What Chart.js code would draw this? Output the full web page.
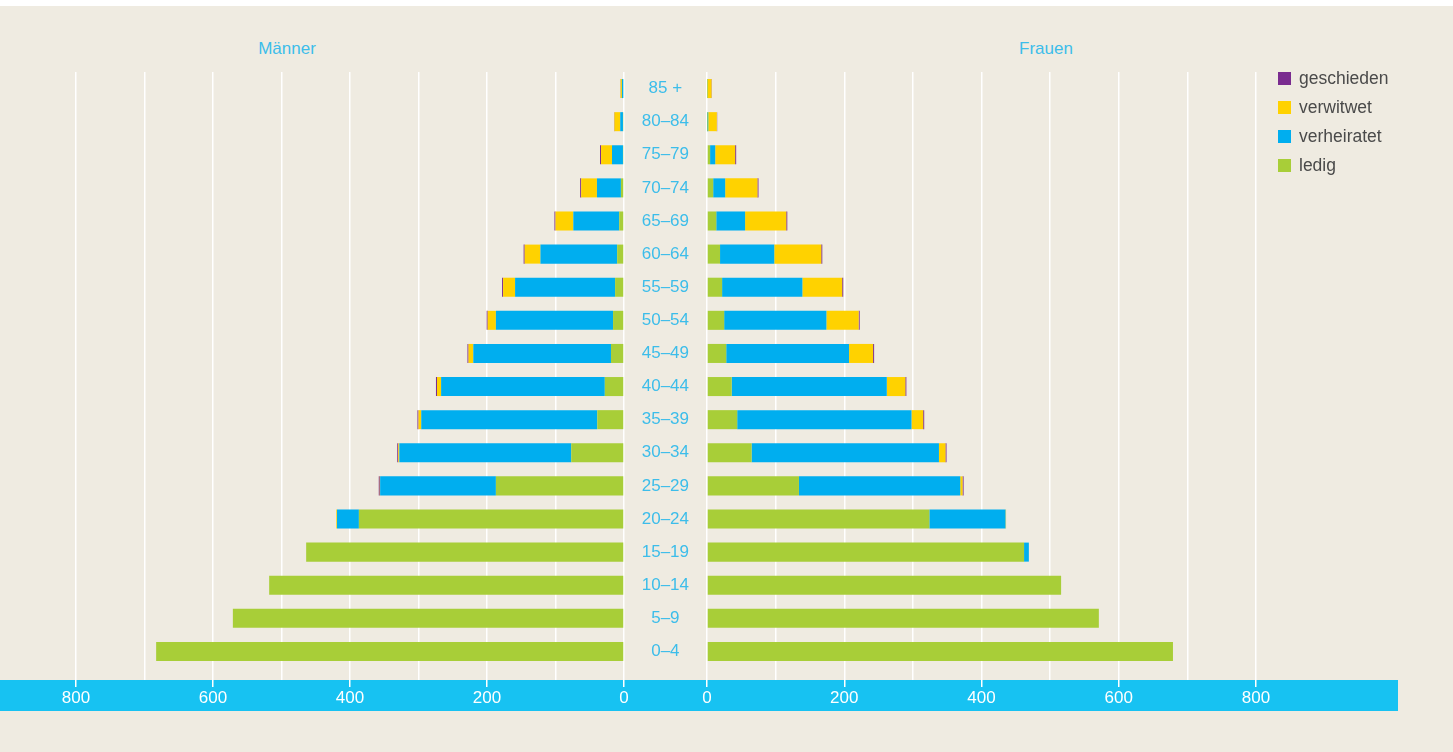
<!DOCTYPE html>
<html>
<head>
<meta charset="utf-8">
<script src="https://cdn.jsdelivr.net/npm/chart.js@4/dist/chart.umd.min.js"></script>
<style>
html,body{margin:0;padding:0;}
body{width:1453px;height:752px;background:#EFEBE1;position:relative;overflow:hidden;font-family:"Liberation Sans",Arial,sans-serif;}
#topstrip{position:absolute;left:0;top:0;width:1453px;height:6px;background:#ffffff;}
#band{position:absolute;left:0;top:680px;width:1398px;height:31px;background:#17C2F2;}
.cw{position:absolute;top:0;height:752px;}
#leftWrap{left:0;width:650px;}
#rightWrap{left:624px;width:829px;}
.title{position:absolute;top:39px;color:#3CBDEA;font-size:17px;line-height:19px;transform:translateX(-50%);white-space:nowrap;}
#legend{position:absolute;left:1278px;top:64px;}
.li{display:flex;align-items:center;height:29px;}
.lb{width:13px;height:13px;margin-right:8px;}
.lt{font-size:17.5px;color:#4A4A4A;}
</style>
</head>
<body>
<div id="topstrip"></div>
<div id="band"></div>
<div class="title" style="left:287px">Männer</div>
<div class="title" style="left:1046px">Frauen</div>
<div class="cw" id="leftWrap"><canvas id="cLeft" width="650" height="752"></canvas></div>
<div class="cw" id="rightWrap"><canvas id="cRight" width="829" height="752"></canvas></div>
<div id="legend"></div>
<script>
// Age groups, top to bottom
const categories = ["85 +","80–84","75–79","70–74","65–69","60–64","55–59","50–54","45–49","40–44","35–39","30–34","25–29","20–24","15–19","10–14","5–9","0–4"];
const seriesNames = ["ledig","verheiratet","verwitwet","geschieden"];
const seriesColors = ["#A8CE38","#00AEEF","#FFD200","#7A2B8F"];
const xTickValues = [0,200,400,600,800];

// Männer (thousands)
const menLedig       = [1,1.5,1.5,4.5,7,10,13,16,19,28,39,77,187,387,464,518,571,683];
const menVerheiratet = [2,4,16,35,67,112,146,171,201,239,257,251,169,32,0,0,0,0];
const menVerwitwet   = [2,8.5,16,23,26,23,17.5,12,7,6,4,1.5,0.5,1,0,0,0,0];
const menGeschieden  = [0.3,0.5,1.5,1.5,1.5,1.5,1.5,1.5,1.5,1.5,1.5,1.5,1.5,0,0,0,0,0];

// Frauen (thousands)
const womenLedig       = [0.3,0.3,4.5,9,13.5,19,22,25,28,36,44,65,134,324,462,516,571,679];
const womenVerheiratet = [0.3,1.5,7.5,17.5,42,79,117,149,179,226,254,273,235,111,7,0,0,0];
const womenVerwitwet   = [6,12.5,29,47,60,68.5,58,47,35,27,17,9.5,3.4,0.8,0,0,0,0];
const womenGeschieden  = [0.5,0.5,1.5,1.5,1.5,1.5,1.5,1.5,1.5,1.5,1.5,1.5,1.5,0,0,0,0,0];

const FONT = '"Liberation Sans", Arial, sans-serif';
const BAND_TOP = 680;
const TICK_LEN = 19;

function datasets(arrs){
  return arrs.map((d,i)=>({
    label: seriesNames[i], data: d, backgroundColor: seriesColors[i],
    borderWidth: 0, barPercentage: 0.575, categoryPercentage: 1.0
  }));
}

function tickColor(ctx){
  const v = ctx.tick ? ctx.tick.value : 0;
  if (xTickValues.includes(v)) return '#ffffff';
  const area = ctx.chart.chartArea;
  if (!area) return '#ffffff';
  const g = ctx.chart.ctx.createLinearGradient(0, area.bottom, 0, area.bottom + TICK_LEN);
  const f = Math.min(1, Math.max(0, (BAND_TOP - area.bottom) / TICK_LEN));
  g.addColorStop(0, '#ffffff'); g.addColorStop(f, '#ffffff');
  g.addColorStop(f, 'rgba(255,255,255,0)'); g.addColorStop(1, 'rgba(255,255,255,0)');
  return g;
}

function xScale(reverse){
  return {
    type:'linear', stacked:true, min:0, max:800, reverse: reverse,
    ticks:{stepSize:100, color:'#ffffff', font:{size:17, family:FONT}, padding:1, maxRotation:0, autoSkip:false,
      callback:(v)=> xTickValues.includes(v) ? String(v) : ''},
    grid:{color:'#ffffff', lineWidth:1.5, tickLength:TICK_LEN, tickWidth:1.5, tickColor:tickColor},
    border:{display:false},
    afterFit:(s)=>{ s.height = 84; }
  };
}

const common = {
  responsive:false, animation:false, indexAxis:'y',
  plugins:{legend:{display:false}, tooltip:{enabled:false}, title:{display:false}}
};

const left = new Chart(document.getElementById('cLeft'), {
  type:'bar',
  data:{labels:categories, datasets:datasets([menLedig,menVerheiratet,menVerwitwet,menGeschieden])},
  options:Object.assign({}, common, {
    layout:{padding:{left:76, right:26, top:72, bottom:0}},
    scales:{
      x: xScale(true),
      y: {stacked:true, display:false}
    }
  })
});

const right = new Chart(document.getElementById('cRight'), {
  type:'bar',
  data:{labels:categories, datasets:datasets([womenLedig,womenVerheiratet,womenVerwitwet,womenGeschieden])},
  options:Object.assign({}, common, {
    layout:{padding:{left:0, right:197, top:72, bottom:0}},
    scales:{
      x: xScale(false),
      y: {stacked:true, position:'left',
        grid:{display:false, drawTicks:false}, border:{display:false},
        ticks:{color:'#3CBDEA', font:{size:17, family:FONT}, crossAlign:'center', padding:18, autoSkip:false},
        afterFit:(s)=>{ s.width = 83; }
      }
    }
  })
});

// Legend built from chart datasets (reverse stacking order)
const lg = document.getElementById('legend');
right.data.datasets.slice().reverse().forEach(ds=>{
  const row = document.createElement('div'); row.className='li';
  const b = document.createElement('div'); b.className='lb'; b.style.background = ds.backgroundColor;
  const t = document.createElement('div'); t.className='lt'; t.textContent = ds.label;
  row.appendChild(b); row.appendChild(t); lg.appendChild(row);
});
</script>
</body>
</html>
